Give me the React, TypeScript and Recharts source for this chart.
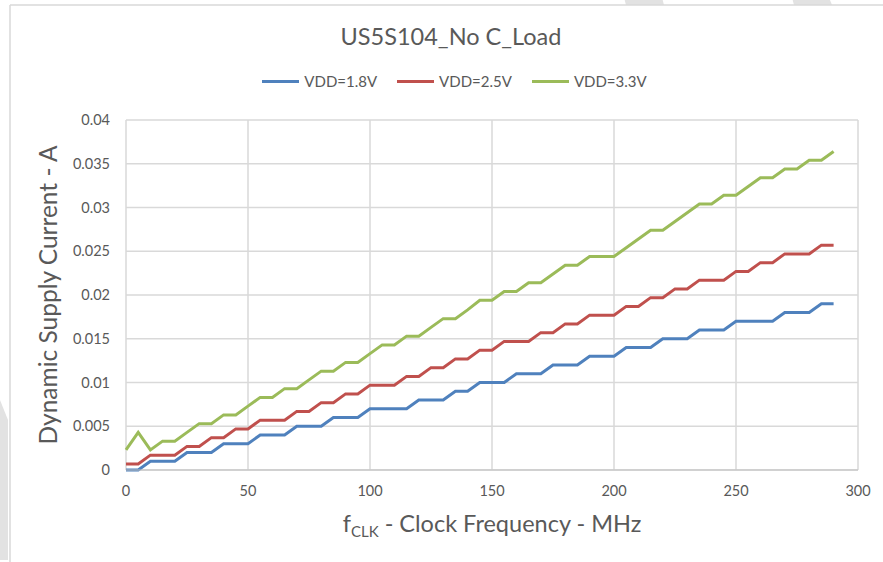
import React from 'react';
import { LineChart, Line, XAxis, YAxis, CartesianGrid } from 'recharts';

const freqMHz = [
  0, 5, 10, 15, 20, 25, 30, 35, 40, 45, 50, 55, 60, 65, 70, 75, 80, 85, 90, 95,
  100, 105, 110, 115, 120, 125, 130, 135, 140, 145, 150, 155, 160, 165, 170, 175, 180, 185, 190, 195,
  200, 205, 210, 215, 220, 225, 230, 235, 240, 245, 250, 255, 260, 265, 270, 275, 280, 285, 290,
];

const vdd18 = [
  0, 0, 0.001, 0.001, 0.001, 0.002, 0.002, 0.002, 0.003, 0.003, 0.003, 0.004, 0.004, 0.004, 0.005, 0.005, 0.005, 0.006, 0.006, 0.006,
  0.007, 0.007, 0.007, 0.007, 0.008, 0.008, 0.008, 0.009, 0.009, 0.01, 0.01, 0.01, 0.011, 0.011, 0.011, 0.012, 0.012, 0.012, 0.013, 0.013,
  0.013, 0.014, 0.014, 0.014, 0.015, 0.015, 0.015, 0.016, 0.016, 0.016, 0.017, 0.017, 0.017, 0.017, 0.018, 0.018, 0.018, 0.019, 0.019,
];

const vdd25 = [
  0.0007, 0.0007, 0.0017, 0.0017, 0.0017, 0.0027, 0.0027, 0.0037, 0.0037, 0.0047, 0.0047, 0.0057, 0.0057, 0.0057, 0.0067, 0.0067, 0.0077, 0.0077, 0.0087, 0.0087,
  0.0097, 0.0097, 0.0097, 0.0107, 0.0107, 0.0117, 0.0117, 0.0127, 0.0127, 0.0137, 0.0137, 0.0147, 0.0147, 0.0147, 0.0157, 0.0157, 0.0167, 0.0167, 0.0177, 0.0177,
  0.0177, 0.0187, 0.0187, 0.0197, 0.0197, 0.0207, 0.0207, 0.0217, 0.0217, 0.0217, 0.0227, 0.0227, 0.0237, 0.0237, 0.0247, 0.0247, 0.0247, 0.0257, 0.0257,
];

const vdd33 = [
  0.0023, 0.0043, 0.0023, 0.0033, 0.0033, 0.0043, 0.0053, 0.0053, 0.0063, 0.0063, 0.0073, 0.0083, 0.0083, 0.0093, 0.0093, 0.0103, 0.0113, 0.0113, 0.0123, 0.0123,
  0.0133, 0.0143, 0.0143, 0.0153, 0.0153, 0.0163, 0.0173, 0.0173, 0.0183, 0.0194, 0.0194, 0.0204, 0.0204, 0.0214, 0.0214, 0.0224, 0.0234, 0.0234, 0.0244, 0.0244,
  0.0244, 0.0254, 0.0264, 0.0274, 0.0274, 0.0284, 0.0294, 0.0304, 0.0304, 0.0314, 0.0314, 0.0324, 0.0334, 0.0334, 0.0344, 0.0344, 0.0354, 0.0354, 0.0364,
];

const seriesNames = ['VDD=1.8V', 'VDD=2.5V', 'VDD=3.3V'];
const seriesColors = ['#4F81BD', '#C0504D', '#9BBB59'];
const xTicks = [0, 50, 100, 150, 200, 250, 300];
const yTicks = [0, 0.005, 0.01, 0.015, 0.02, 0.025, 0.03, 0.035, 0.04];

const data = freqMHz.map((f, i) => ({
  f,
  v18: vdd18[i],
  v25: vdd25[i],
  v33: vdd33[i],
}));

const FONT = 'Lato, "Open Sans", sans-serif';
const TEXT = '#595959';

// legend drawn outside the chart so it doesn't push the plot down
const LegendRow = () => (
  <div style={{ display: 'flex', justifyContent: 'center', gap: 20, fontFamily: FONT, fontSize: 15, color: TEXT }}>
    {seriesNames.map((n, i) => (
      <div key={n} style={{ display: 'flex', alignItems: 'center' }}>
        <span style={{ display: 'inline-block', width: 37, height: 3, background: seriesColors[i], marginRight: 5 }} />
        <span>{n}</span>
      </div>
    ))}
  </div>
);

const XTitle = (props: any) => {
  const { viewBox } = props;
  const cx = viewBox.x + viewBox.width / 2;
  return (
    <text x={cx} y={viewBox.y + 62} textAnchor="middle" fill={TEXT} fontFamily={FONT} fontSize={23.5}>
      <tspan>f</tspan>
      <tspan fontSize={15} dy={5}>CLK</tspan>
      <tspan dy={-5}> - Clock Frequency - MHz</tspan>
    </text>
  );
};

export default function App() {
  return (
    <div style={{ position: 'relative', width: 883, height: 562, background: '#fff', overflow: 'hidden' }}>
      <style>{`body{margin:0}`}</style>
      <svg width={883} height={562} style={{ position: 'absolute', left: 0, top: 0 }}>
        <polygon points="622,-10 660,-10 664,5 626,5" fill="#e2e2e2" />
        <polygon points="790,-10 826,-10 832,5 794,5" fill="#e2e2e2" />
        <polygon points="0,400 8,420 8,560 0,560" fill="#e2e2e2" />
        <line x1={10} y1={5} x2={883} y2={5} stroke="#d9d9d9" strokeWidth={1.5} />
        <line x1={10} y1={5} x2={10} y2={562} stroke="#d9d9d9" strokeWidth={1.5} />
      </svg>
      <div style={{ position: 'absolute', top: 22, left: 0, width: 902, textAlign: 'center', fontFamily: FONT, fontSize: 23.5, color: TEXT }}>
        US5S104_No C_Load
      </div>
      <div style={{ position: 'absolute', top: 72, left: 0, width: 909 }}>
        <LegendRow />
      </div>
      <div style={{ position: 'absolute', left: 0, top: 0 }}>
        <LineChart width={883} height={562} data={data} margin={{ top: 120, right: 25, bottom: 52, left: 56 }}>
          <CartesianGrid stroke="#d9d9d9" strokeWidth={1.5} />
          <XAxis
            dataKey="f"
            type="number"
            domain={[0, 300]}
            ticks={xTicks}
            tickLine={false}
            tickSize={6}
            tickMargin={10}
            height={40}
            stroke="#bfbfbf"
            tick={{ fill: TEXT, fontSize: 14.5, fontFamily: FONT }}
            label={{ content: XTitle }}
          />
          <YAxis
            type="number"
            domain={[0, 0.04]}
            ticks={yTicks}
            axisLine={false}
            tickLine={false}
            tickSize={6}
            tickMargin={10}
            width={70}
            tick={{ fill: TEXT, fontSize: 14.5, fontFamily: FONT }}
            label={{
              value: 'Dynamic Supply Current - A',
              angle: -90,
              position: 'insideLeft',
              offset: -8,
              style: { textAnchor: 'middle', fill: TEXT, fontSize: 24.5, fontFamily: FONT },
            }}
          />
          <Line type="linear" dataKey="v18" name={seriesNames[0]} stroke={seriesColors[0]} strokeWidth={3} dot={false} isAnimationActive={false} />
          <Line type="linear" dataKey="v25" name={seriesNames[1]} stroke={seriesColors[1]} strokeWidth={3} dot={false} isAnimationActive={false} />
          <Line type="linear" dataKey="v33" name={seriesNames[2]} stroke={seriesColors[2]} strokeWidth={3} dot={false} isAnimationActive={false} />
        </LineChart>
      </div>
    </div>
  );
}
